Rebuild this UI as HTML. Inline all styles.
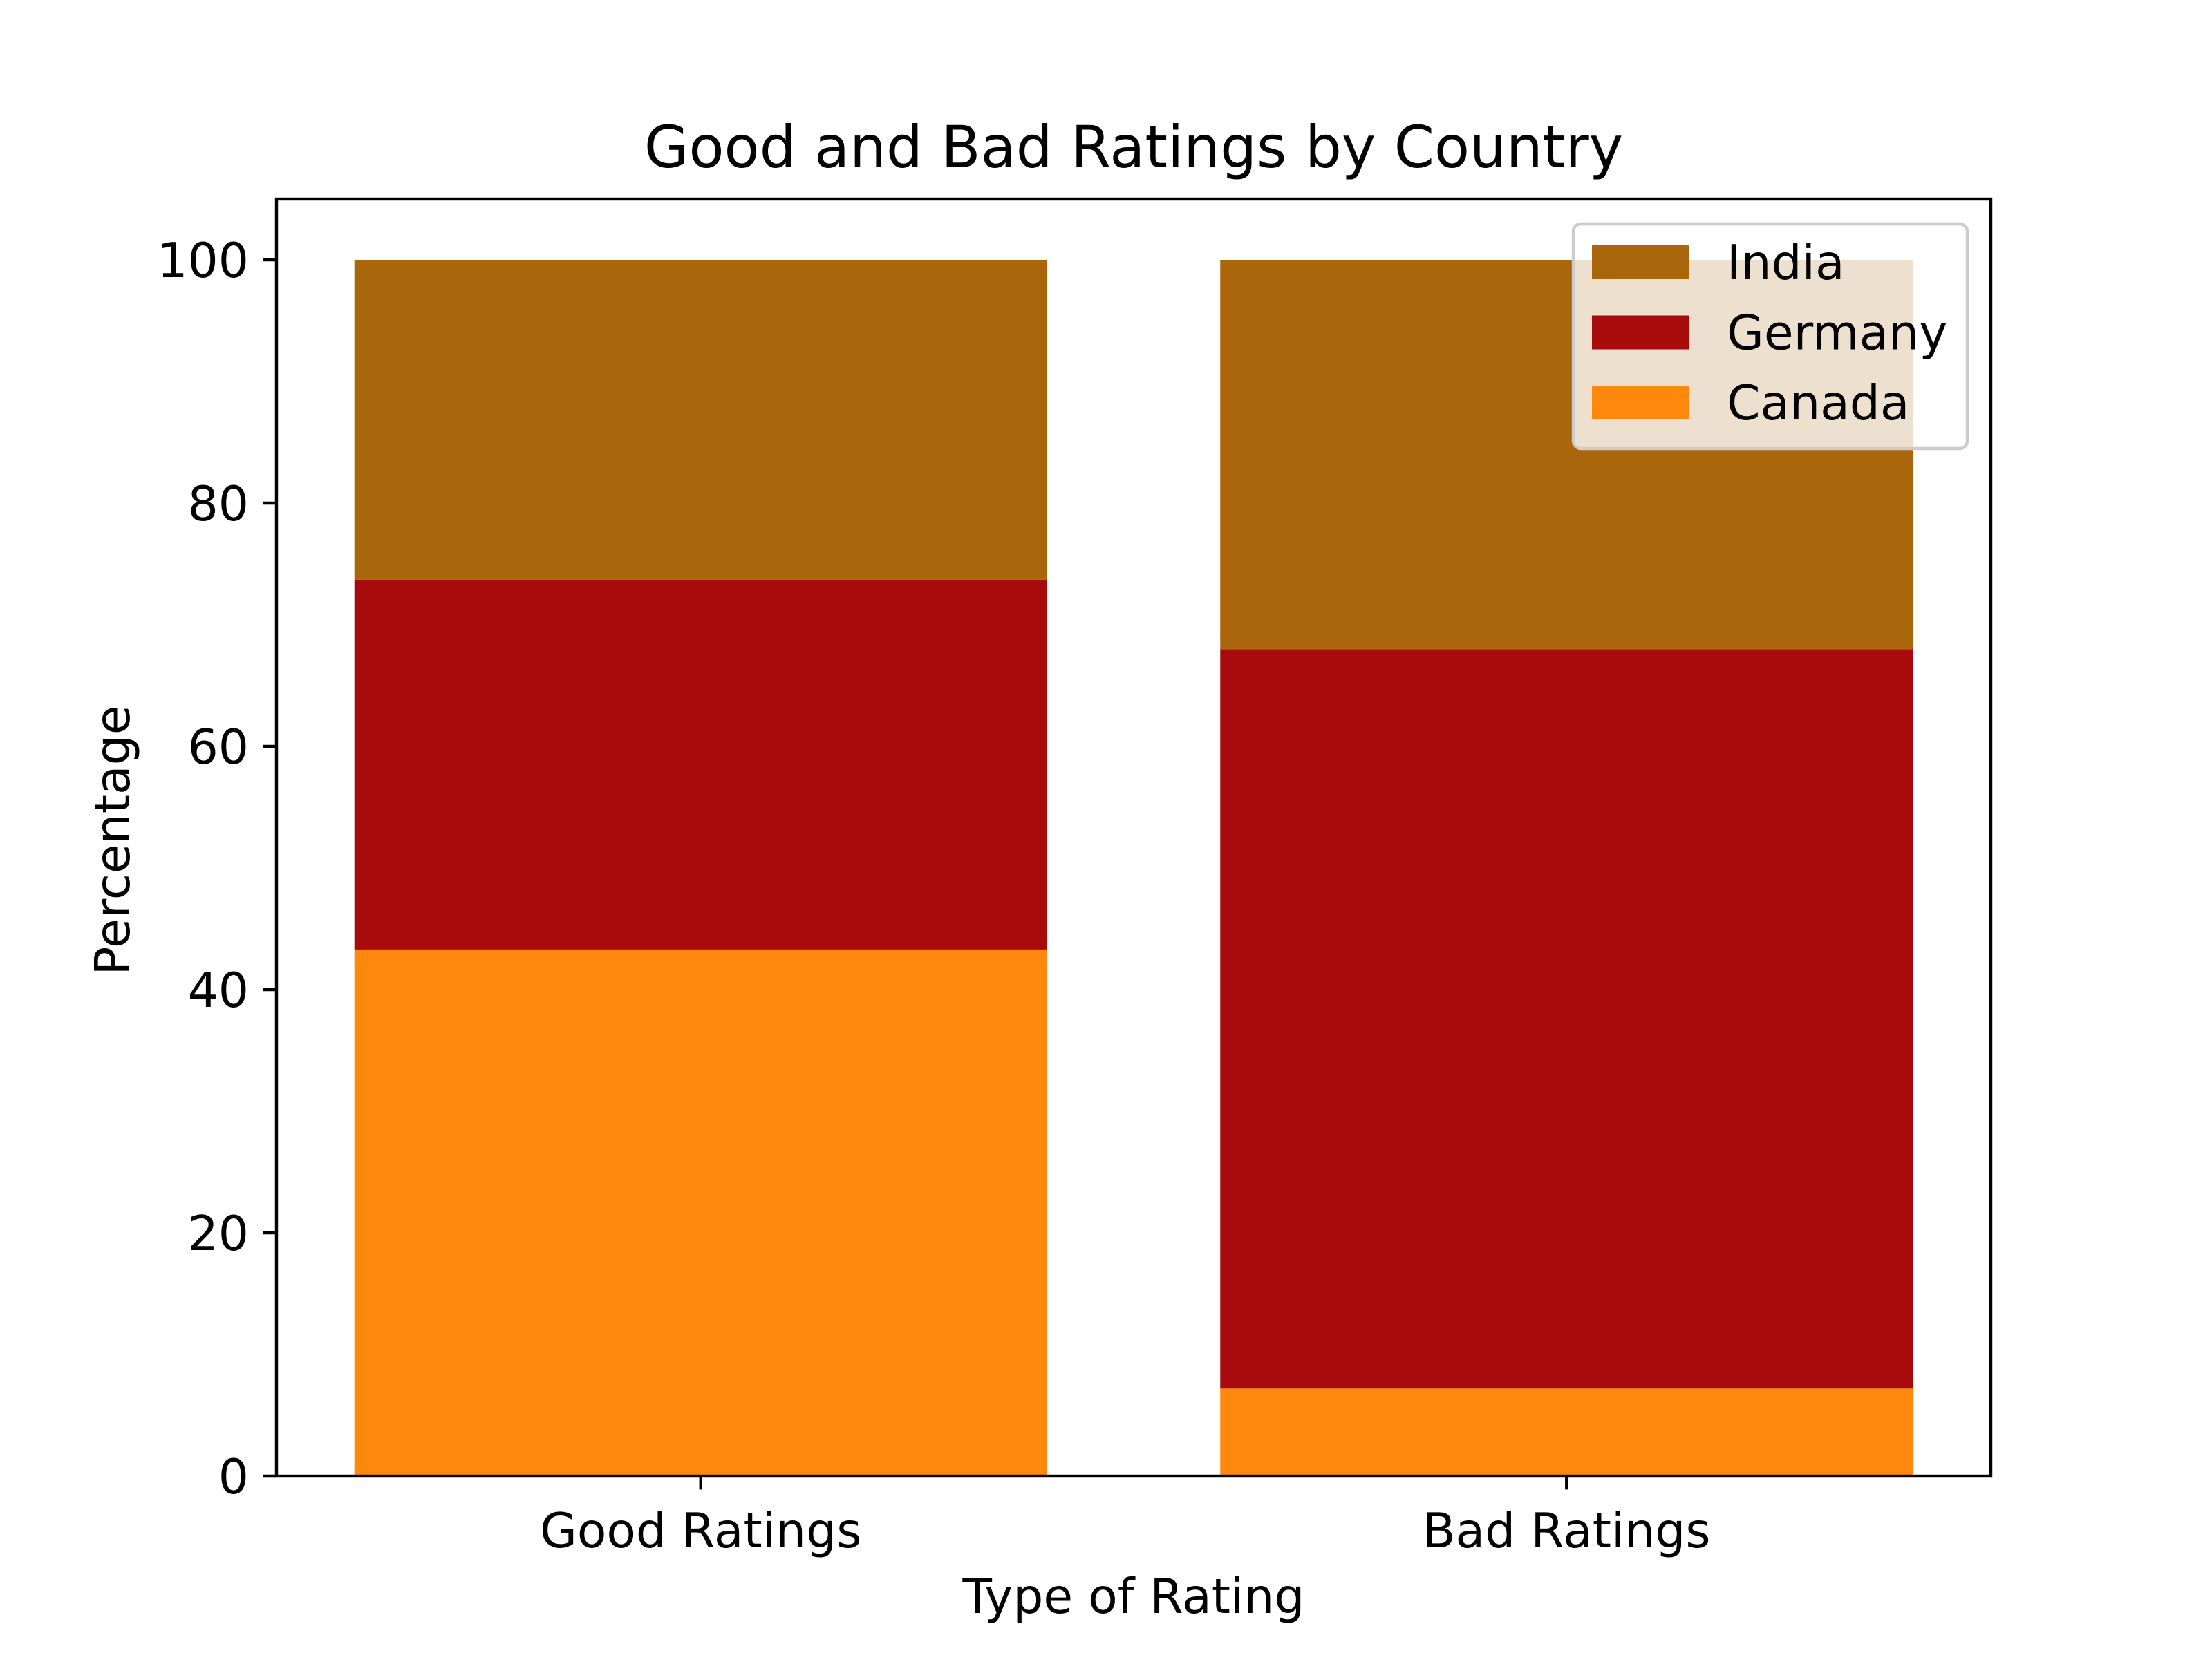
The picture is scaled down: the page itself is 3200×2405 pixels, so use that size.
<!DOCTYPE html>
<html><head><meta charset="utf-8"><style>
html,body{margin:0;padding:0;background:#fff}
svg text{font-family:"DejaVu Sans","Liberation Sans",sans-serif;fill:#000}
</style></head><body>
<svg id="chart" width="3200" height="2400" viewBox="0 0 3200 2400" xmlns="http://www.w3.org/2000/svg">
<rect width="3200" height="2400" fill="#fff"/>
<g id="bars"></g>
<g id="axes"></g>
<text x="1640" y="242" font-size="83.4" text-anchor="middle">Good and Bad Ratings by Country</text>
<text x="1640" y="2334" font-size="69.5" text-anchor="middle">Type of Rating</text>
<text x="0" y="0" font-size="69.5" text-anchor="middle" transform="translate(187,1216) rotate(-90)">Percentage</text>
<g id="legend"></g>
</svg>
<script>
const categories = ["Good Ratings", "Bad Ratings"];
const seriesNames = ["Canada", "Germany", "India"];
const canada = [43.3, 7.2];
const germany = [30.4, 60.8];
const india = [26.3, 32.0];
const yTicks = [0, 20, 40, 60, 80, 100];
const colors = ["#FE870D", "#A80B0B", "#A9660B"];

const NS = "http://www.w3.org/2000/svg";
const L = 400, R = 2880, T = 288, B = 2136;
const xMin = -0.49, xMax = 1.49, yMin = 0, yMax = 105;
const xs = v => L + (v - xMin) / (xMax - xMin) * (R - L);
const ys = v => B - (v - yMin) / (yMax - yMin) * (B - T);
function mk(tag, attrs, parent) { const e = document.createElementNS(NS, tag); for (const k in attrs) e.setAttribute(k, attrs[k]); parent.appendChild(e); return e; }

const bars = document.getElementById("bars");
const series = [canada, germany, india];
categories.forEach((c, i) => {
  let base = 0;
  series.forEach((s, j) => {
    const r = mk("rect", {x: xs(i - 0.4), y: ys(base + s[i]), width: xs(i + 0.4) - xs(i - 0.4), height: ys(base) - ys(base + s[i]), fill: colors[j]}, bars);
    
    
    base += s[i];
  });
});

const axes = document.getElementById("axes");
const frame = mk("rect", {x: L, y: T, width: R - L, height: B - T, fill: "none", stroke: "#000", "stroke-width": 4.4}, axes);


yTicks.forEach(t => {
  const y = ys(t);
  const tk = mk("line", {x1: L - 19.4, x2: L, y1: y, y2: y, stroke: "#000", "stroke-width": 4.4}, axes);
  
  
  const tx = mk("text", {x: L - 40, y: y + 25, "font-size": 69.5, "text-anchor": "end"}, axes);
  tx.textContent = t;
  
  
});
categories.forEach((c, i) => {
  const x = xs(i);
  const tk = mk("line", {x1: x, x2: x, y1: B, y2: B + 19.4, stroke: "#000", "stroke-width": 4.4}, axes);
  
  
  const tx = mk("text", {x: x, y: B + 103, "font-size": 69.5, "text-anchor": "middle"}, axes);
  tx.textContent = c;
  
  
});

const lg = document.getElementById("legend");
const box = mk("rect", {x: 2276, y: 324, width: 570, height: 325, rx: 11, fill: "#fff", "fill-opacity": 0.8, stroke: "#cccccc", "stroke-width": 4.4}, lg);


const legendOrder = [2, 1, 0];
legendOrder.forEach((j, k) => {
  const y = 355 + k * 101.5;
  const p = mk("rect", {x: 2303, y: y, width: 140, height: 49, fill: colors[j]}, lg);
  
  
  const t = mk("text", {x: 2498, y: y + 49, "font-size": 69.5}, lg);
  t.textContent = seriesNames[j];
  
  
});
</script>
</body></html>
